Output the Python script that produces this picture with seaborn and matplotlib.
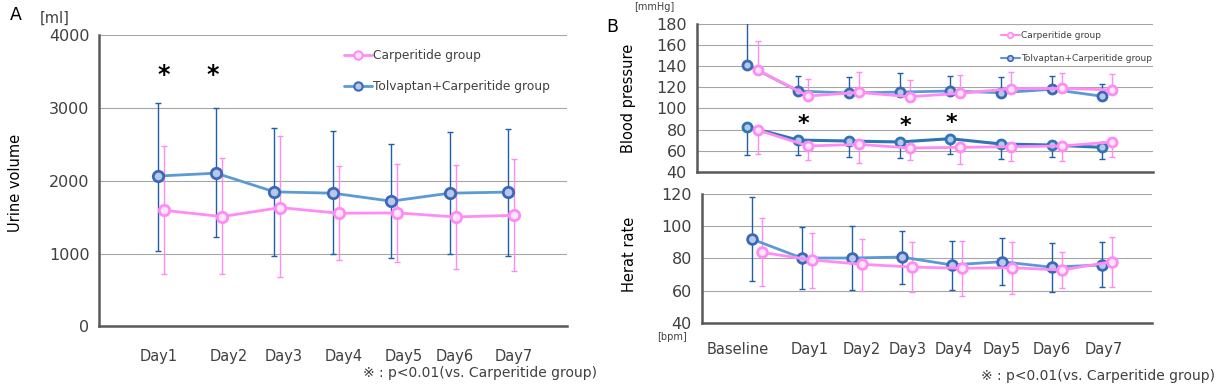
import numpy as np
import pandas as pd
import matplotlib
matplotlib.use('Agg')
import matplotlib.pyplot as plt
import matplotlib.transforms as mtransforms
from matplotlib.lines import Line2D
import seaborn as sns

# ---- data ----
days = ['Day1', 'Day2', 'Day3', 'Day4', 'Day5', 'Day6', 'Day7']
days_b = ['Baseline'] + days

urine_tc_mean = [2065, 2105, 1848, 1830, 1720, 1830, 1845]
urine_tc_upper = [3075, 2995, 2730, 2690, 2510, 2675, 2715]
urine_tc_lower = [1030, 1225, 960, 995, 945, 1000, 960]
urine_c_mean = [1595, 1508, 1632, 1554, 1559, 1503, 1526]
urine_c_upper = [2480, 2320, 2610, 2208, 2236, 2222, 2300]
urine_c_lower = [713, 717, 671, 906, 878, 782, 754]

sbp_tc_mean = [141.1, 116.5, 114.6, 115.5, 116.5, 114.9, 118.1, 111.5]
sbp_tc_upper = [185.0, 131.0, 130.0, 133.2, 131.0, 130.0, 131.0, 123.2]
sbp_c_mean = [136.4, 111.8, 115.2, 111.1, 114.3, 118.7, 119.0, 117.5]
sbp_c_upper = [164.2, 128.2, 134.2, 127.2, 131.3, 134.2, 133.2, 132.6]
dbp_tc_mean = [82.7, 70.0, 69.1, 68.2, 71.3, 66.3, 65.3, 63.1]
dbp_tc_lower = [55.8, 55.8, 53.9, 53.0, 56.8, 51.7, 53.9, 52.4]
dbp_c_mean = [79.5, 64.4, 65.9, 62.5, 63.1, 63.7, 64.4, 68.2]
dbp_c_lower = [56.8, 51.0, 47.9, 50.8, 47.3, 50.1, 50.1, 54.0]

hr_tc_mean = [92.0, 80.2, 80.2, 80.8, 75.9, 77.9, 74.5, 75.9]
hr_tc_upper = [117.9, 99.7, 100.3, 97.2, 91.0, 92.4, 89.3, 89.9]
hr_tc_lower = [65.7, 60.7, 60.3, 63.8, 60.1, 63.2, 58.9, 62.0]
hr_c_mean = [83.7, 79.0, 76.3, 74.6, 73.8, 74.2, 72.7, 77.9]
hr_c_upper = [105.3, 95.5, 92.2, 89.9, 91.0, 89.9, 83.7, 93.1]
hr_c_lower = [62.6, 61.3, 59.7, 58.9, 56.4, 57.6, 61.3, 62.0]

sig_urine = ['Day1', 'Day2']
sig_dbp = ['Day1', 'Day3', 'Day4']

# ---- style ----
sns.set_theme(style='white')
plt.rcParams['font.family'] = ['DejaVu Sans', 'Noto Sans CJK JP']

PINK = '#ff8cf5'
PINK_FACE = '#ffe6fc'
BLUE_LINE = '#5b9bd5'
BLUE_DARK = '#2e75b6'
BLUE_EDGE = '#3d68b8'
BLUE_FACE = '#b7c8e8'
BAR_BLUE = '#1f5ea8'
AXC = '#595959'
TXT = '#404040'


def style_axes(ax, ymin, ymax, ystep, nx):
    ax.set_xlim(0, nx)
    ax.set_ylim(ymin, ymax)
    ax.set_yticks(np.arange(ymin, ymax + ystep, ystep))
    ax.set_xticks(np.arange(0, nx + 1))
    for s in ['top', 'right']:
        ax.spines[s].set_visible(False)
    for s in ['left', 'bottom']:
        ax.spines[s].set_color(AXC)
        ax.spines[s].set_linewidth(1.8)
    ax.grid(axis='y', color='#a6a6a6', linewidth=0.8)
    ax.grid(axis='x', visible=False)
    ax.set_axisbelow(True)
    ax.tick_params(axis='both', direction='out', length=5, width=1.5,
                   color=AXC, labelcolor=TXT, labelsize=10.5)
    ax.tick_params(axis='y', pad=2, labelsize=11.5)
    ax.set_xlabel('')
    ax.set_ylabel('')


def draw_series(ax, x, mean, low, up, line, mface, medge, ms, lw, bar):
    ax.errorbar(x, mean, yerr=[low, up], fmt='none', ecolor=bar,
                elinewidth=1.0, capsize=2.5, capthick=1.0, zorder=2)
    df = pd.DataFrame({'x': x, 'y': mean})
    sns.lineplot(data=df, x='x', y='y', ax=ax, color=line, linewidth=lw,
                 marker='o', markersize=ms, markerfacecolor=mface,
                 markeredgecolor=medge, markeredgewidth=2.0,
                 legend=False, zorder=3)


def shift_labels(ax, fig, offsets_px):
    labels = [t for t in ax.get_xticklabels() if t.get_text()]
    for t, dx in zip(labels, offsets_px):
        t.set_transform(t.get_transform() +
                        mtransforms.ScaledTranslation(dx / 100, 0, fig.dpi_scale_trans))


fig = plt.figure(figsize=(12.27, 3.90), dpi=100)

# ---- panel A: urine volume ----
axA = fig.add_axes([0.0809, 0.1633, 0.3808, 0.7462])
xa = np.arange(1, len(days) + 1)
tc_m = np.array(urine_tc_mean)
c_m = np.array(urine_c_mean)
draw_series(axA, xa, tc_m, tc_m - np.array(urine_tc_lower), np.array(urine_tc_upper) - tc_m,
            BLUE_LINE, BLUE_FACE, BLUE_EDGE, 7.5, 2.0, BAR_BLUE)
draw_series(axA, xa + 0.1, c_m, c_m - np.array(urine_c_lower), np.array(urine_c_upper) - c_m,
            PINK, PINK_FACE, PINK, 7.5, 2.0, PINK)
style_axes(axA, 0, 4000, 1000, 8)
axA.set_xticklabels([''] + days + [''])
axA.tick_params(axis='x', pad=11)
shift_labels(axA, fig, [1, 13, 9, 11, 12, 5, 6])
for d in sig_urine:
    i = days.index(d)
    axA.text(xa[i] + (0.1 if i == 0 else -0.05), 3450, '*', fontsize=17,
             fontweight='bold', color='black', ha='center', va='center')
hA = [Line2D([], [], color=PINK, lw=2, marker='o', ms=6, mfc=PINK_FACE, mec=PINK, mew=1.5),
      Line2D([], [], color=BLUE_LINE, lw=2, marker='o', ms=6, mfc=BLUE_FACE, mec=BLUE_EDGE, mew=1.5)]
legA = axA.legend(hA, ['Carperitide group', 'Tolvaptan+Carperitide group'],
                  loc='upper left', bbox_to_anchor=(0.50, 0.99), frameon=False,
                  fontsize=8.8, labelspacing=1.45, handlelength=2.3, handletextpad=0.05)
for t in legA.get_texts():
    t.set_color(TXT)

fig.text(15 / 1227, 1 - 183 / 390, 'Urine volume', rotation=90, fontsize=10.5,
         ha='center', va='center', color='black')
fig.text(16 / 1227, 1 - 15 / 390, 'A', fontsize=12.5, ha='center', va='center', color='black')
fig.text(40 / 1227, 1 - 18 / 390, '[ml]', fontsize=10.5, ha='left', va='center', color=TXT)
fig.text(597 / 1227, 1 - 373 / 390, '※ : p<0.01(vs. Carperitide group)', fontsize=10,
         ha='right', va='center', color=TXT)

# ---- panel B top: blood pressure ----
axB = fig.add_axes([0.5678, 0.5597, 0.3719, 0.3787])
xb = np.arange(1, len(days_b) + 1)
s_tc = np.array(sbp_tc_mean)
s_c = np.array(sbp_c_mean)
d_tc = np.array(dbp_tc_mean)
d_c = np.array(dbp_c_mean)
zero = np.zeros(len(xb))
draw_series(axB, xb, s_tc, zero, np.array(sbp_tc_upper) - s_tc,
            BLUE_LINE, BLUE_FACE, BLUE_EDGE, 6.5, 2.0, BAR_BLUE)
draw_series(axB, xb + 0.2, s_c, zero, np.array(sbp_c_upper) - s_c,
            PINK, PINK_FACE, PINK, 6.5, 2.0, PINK)
draw_series(axB, xb, d_tc, d_tc - np.array(dbp_tc_lower), zero,
            BLUE_DARK, BLUE_FACE, BLUE_DARK, 6.5, 2.2, BAR_BLUE)
draw_series(axB, xb + 0.2, d_c, d_c - np.array(dbp_c_lower), zero,
            PINK, PINK_FACE, PINK, 6.5, 2.0, PINK)
style_axes(axB, 40, 180, 20, 9)
axB.set_xticklabels([])
sig_off = {'Day1': (0.11, 85), 'Day3': (0.11, 83), 'Day4': (0.03, 86)}
for d in sig_dbp:
    i = days_b.index(d)
    dx, yy = sig_off[d]
    axB.text(xb[i] + dx, yy, '*', fontsize=16, fontweight='bold', color='black',
             ha='center', va='center')
hB = [Line2D([], [], color=PINK, lw=1.5, marker='o', ms=4, mfc=PINK_FACE, mec=PINK, mew=1.2),
      Line2D([], [], color=BLUE_LINE, lw=1.5, marker='o', ms=4, mfc=BLUE_FACE, mec=BLUE_EDGE, mew=1.2)]
legB = axB.legend(hB, ['Carperitide group', 'Tolvaptan+Carperitide group'],
                  loc='upper left', bbox_to_anchor=(0.648, 1.005), frameon=False,
                  fontsize=6.5, labelspacing=1.5, handlelength=2.2, handletextpad=0.1)
for t in legB.get_texts():
    t.set_color(TXT)

fig.text(628 / 1227, 1 - 98 / 390, 'Blood pressure', rotation=90, fontsize=10.5,
         ha='center', va='center', color='black')
fig.text(612 / 1227, 1 - 27 / 390, 'B', fontsize=12.5, ha='center', va='center', color='black')
fig.text(634 / 1227, 1 - 7 / 390, '[mmHg]', fontsize=7, ha='left', va='center', color=TXT)

# ---- panel B bottom: heart rate ----
axH = fig.add_axes([0.5719, 0.1726, 0.3667, 0.3300])
h_tc = np.array(hr_tc_mean)
h_c = np.array(hr_c_mean)
draw_series(axH, xb, h_tc, h_tc - np.array(hr_tc_lower), np.array(hr_tc_upper) - h_tc,
            BLUE_LINE, BLUE_FACE, BLUE_EDGE, 7, 2.0, BAR_BLUE)
draw_series(axH, xb + 0.2, h_c, h_c - np.array(hr_c_lower), np.array(hr_c_upper) - h_c,
            PINK, PINK_FACE, PINK, 7, 2.0, PINK)
style_axes(axH, 40, 120, 20, 9)
axH.set_xticklabels([''] + days_b + [''])
axH.tick_params(axis='x', pad=9, labelsize=10.5)
shift_labels(axH, fig, [-14, 8, 10, 6, 2, 0, 0, 2])

fig.text(630 / 1227, 1 - 254 / 390, 'Herat rate', rotation=90, fontsize=10.5,
         ha='center', va='center', color='black')
fig.text(657 / 1227, 1 - 337 / 390, '[bpm]', fontsize=7, ha='left', va='center', color=TXT)
fig.text(1215 / 1227, 1 - 376 / 390, '※ : p<0.01(vs. Carperitide group)', fontsize=10,
         ha='right', va='center', color=TXT)

fig.savefig('out.png', dpi=100)
